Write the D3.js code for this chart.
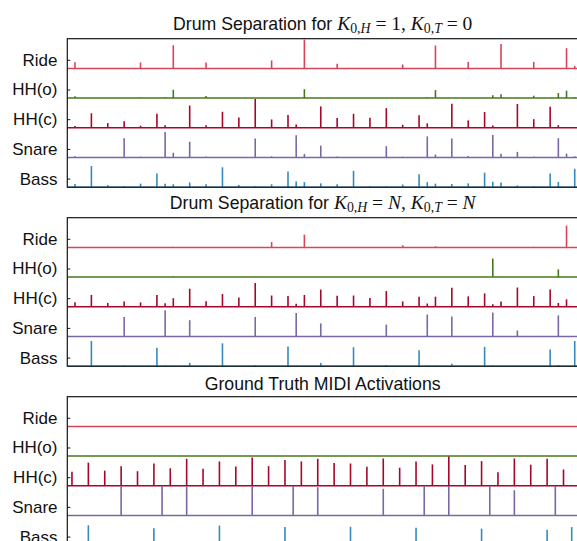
<!DOCTYPE html>
<html><head><meta charset="utf-8">
<script src="https://cdn.jsdelivr.net/npm/d3@7"></script>
<style>body{margin:0;background:#fff}svg{display:block}</style>
</head><body><svg id="c" width="577" height="541"></svg>
<script>
// ---------------- data ----------------
const rowLabels = ["Ride", "HH(o)", "HH(c)", "Snare", "Bass"];
const seriesColors = ["#d8455b", "#467821", "#a60628", "#7a68a6", "#348abd"];

// [frame index, activation]
const sep1Ride  = [[0,.21],[8,.2],[12,.78],[16,.2],[24,.27],[28,.97],[32,.16],[40,.13],[44,.77],[48,.22],[52,.82],[56,.22],[60,.68],[61,.08]];
const sep1HHo   = [[0,.06],[8,.02],[11,.04],[12,.28],[16,.07],[28,.3],[43,.03],[44,.27],[51,.1],[52,.13],[56,.08],[59,.17],[60,.25],[61,.03]];
const sep1HHc   = [[0,.06],[2,.49],[4,.16],[6,.22],[8,.07],[10,.47],[11,.09],[14,.75],[16,.09],[18,.54],[20,.35],[22,.97],[24,.28],[26,.43],[27,.11],[28,.03],[30,.72],[32,.33],[34,.47],[36,.34],[38,.66],[40,.1],[42,.42],[43,.15],[46,.81],[48,.25],[50,.53],[51,.08],[54,.8],[56,.29],[58,.71],[59,.09]];
const sep1Snare = [[0,.04],[6,.65],[8,.03],[11,.86],[12,.16],[14,.53],[16,.03],[22,.64],[24,.04],[27,.75],[28,.12],[30,.4],[32,.03],[38,.38],[40,.03],[43,.71],[44,.1],[46,.64],[48,.05],[51,.76],[52,.13],[54,.19],[56,.03],[59,.65],[60,.13],[61,.04]];
const sep1Bass  = [[0,.11],[2,.71],[4,.07],[6,.03],[8,.12],[10,.46],[11,.12],[12,.1],[14,.16],[16,.1],[18,.67],[20,.07],[22,.03],[24,.1],[26,.53],[27,.19],[28,.17],[30,.13],[32,.1],[34,.55],[36,.03],[38,.03],[40,.09],[42,.44],[43,.17],[44,.12],[46,.11],[48,.13],[50,.49],[51,.18],[52,.16],[54,.06],[56,.03],[58,.46],[59,.18],[61,.62]];

const sep2Ride  = [[12,.02],[24,.18],[28,.43],[40,.07],[44,.04],[56,.02],[60,.73]];
const sep2HHo   = [[12,.02],[51,.63],[59,.26]];
const sep2HHc   = [[0,.15],[2,.4],[4,.13],[6,.18],[8,.15],[10,.4],[11,.12],[12,.29],[14,.61],[16,.19],[18,.43],[20,.31],[22,.8],[24,.38],[26,.36],[27,.1],[28,.4],[30,.58],[32,.37],[34,.38],[36,.3],[38,.53],[40,.18],[42,.34],[43,.11],[44,.34],[46,.64],[48,.35],[50,.45],[51,.09],[52,.18],[54,.65],[56,.36],[58,.58],[59,.13],[60,.25]];
const sep2Snare = [[6,.66],[11,.88],[14,.55],[22,.66],[27,.79],[30,.44],[38,.4],[43,.74],[46,.67],[51,.81],[54,.2],[59,.71]];
const sep2Bass  = [[2,.85],[6,.02],[10,.62],[11,.02],[12,.02],[14,.11],[18,.77],[22,.03],[26,.66],[27,.02],[30,.11],[34,.64],[38,.04],[42,.54],[43,.02],[44,.02],[46,.08],[50,.65],[51,.02],[54,.02],[58,.56],[59,.04],[61,.85]];

const gtRide  = [];
const gtHHo   = [];
const gtHHc   = [[0,.47],[2,.78],[4,.51],[6,.66],[8,.49],[10,.75],[12,.59],[14,.91],[16,.57],[18,.82],[20,.65],[22,.95],[24,.66],[26,.87],[28,.82],[30,.91],[32,.77],[34,.75],[36,.64],[38,.92],[40,.61],[42,.82],[44,.72],[46,.99],[48,.7],[50,.83],[52,.46],[54,.92],[56,.71],[58,.91],[60,.55]];
const gtSnare = [[6,.99],[11,.99],[14,.99],[22,.99],[27,.99],[30,.95],[38,.9],[43,.99],[46,.99],[51,.99],[54,.85],[59,.99]];
const gtBass  = [[2,.67],[10,.57],[18,.66],[26,.61],[34,.62],[42,.59],[50,.56],[58,.52],[61,.61]];
const gtFrameShift = -0.37; // MIDI onsets sit slightly earlier than analysis frames

const xDomain = [-0.94, 61.4];
const tickLevel = 0.29;

const panels = [
  {rows: [sep1Ride, sep1HHo, sep1HHc, sep1Snare, sep1Bass], shift: 0},
  {rows: [sep2Ride, sep2HHo, sep2HHc, sep2Snare, sep2Bass], shift: 0},
  {rows: [gtRide, gtHHo, gtHHc, gtSnare, gtBass], shift: gtFrameShift}
];

// ---------------- drawing ----------------
const svg = d3.select("#c");
const left = 67.3, right = 578;
const panelTops = [38.7, 217.7, 396.7];
const rowH = 29.7;
const titleY = [29.5, 208.5, 389.5];
const x = d3.scaleLinear().domain(xDomain).range([left, right]);
const cx = (left + right) / 2;
const sansF = "'Liberation Sans', Arial, Helvetica, sans-serif";
const serifF = "'Liberation Serif', 'Times New Roman', serif";
const titleSize = 17.7;

function mathTitle(g, y, hVal, tVal, italicVals) {
  const t = g.append("text").attr("x", cx).attr("y", y).attr("text-anchor", "middle")
    .attr("font-family", sansF).attr("font-size", titleSize).attr("fill", "#111")
    .attr("xml:space", "preserve");
  t.append("tspan").text("Drum Separation for ");
  const mathSize = 19.5, subSize = 13.8, sub = 3.8;
  function K(sym) {
    t.append("tspan").attr("font-family", serifF).attr("font-style", "italic").attr("font-size", mathSize).text("K");
    t.append("tspan").attr("font-family", serifF).attr("font-size", subSize).attr("dy", sub).text("0,");
    t.append("tspan").attr("font-family", serifF).attr("font-style", "italic").attr("font-size", subSize).text(sym);
  }
  function eq(v) {
    t.append("tspan").attr("font-family", serifF).attr("font-size", mathSize).attr("dy", -sub).text("\u2005=\u2005");
    t.append("tspan").attr("font-family", serifF).attr("font-size", mathSize)
      .attr("font-style", italicVals ? "italic" : "normal").text(v);
  }
  K("H"); eq(hVal);
  t.append("tspan").attr("font-family", serifF).attr("font-size", mathSize).text(",\u2005");
  K("T"); eq(tVal);
}

const g0 = svg.append("g");
mathTitle(g0, titleY[0], "1", "0", false);
mathTitle(g0, titleY[1], "N", "N", true);
g0.append("text").attr("x", cx).attr("y", titleY[2]).attr("text-anchor", "middle")
  .attr("font-family", sansF).attr("font-size", titleSize).attr("fill", "#111")
  .text("Ground Truth MIDI Activations");

panels.forEach((p, pi) => {
  const top = panelTops[pi];
  const y = d3.scaleLinear().domain([0, 5]).range([top + 5 * rowH, top]);
  const g = svg.append("g");
  p.rows.forEach((data, r) => {
    const off = 4 - r;
    const col = seriesColors[r];
    g.append("line").attr("x1", left).attr("x2", right)
      .attr("y1", y(off)).attr("y2", y(off))
      .attr("stroke", col).attr("stroke-width", 1.5);
    g.selectAll(null).data(data).enter().append("line")
      .attr("x1", d => x(d[0] + p.shift)).attr("x2", d => x(d[0] + p.shift))
      .attr("y1", y(off)).attr("y2", d => y(off + d[1]))
      .attr("stroke", col).attr("stroke-width", 1.6);
  });
  g.append("rect").attr("x", left).attr("y", top).attr("width", right - left).attr("height", 5 * rowH)
    .attr("fill", "none").attr("stroke", "#151515").attr("stroke-width", 1.2);
  const axis = d3.axisLeft(y)
    .tickValues(rowLabels.map((_, r) => 4 - r + tickLevel))
    .tickFormat((d, i) => rowLabels[i])
    .tickSizeInner(-3).tickSizeOuter(0).tickPadding(9.8);
  const ag = g.append("g").attr("transform", `translate(${left},0)`).call(axis);
  ag.select(".domain").remove();
  ag.selectAll("line").attr("stroke", "#151515").attr("stroke-width", 1);
  ag.selectAll("text").attr("font-family", sansF).attr("font-size", 17).attr("fill", "#111");
});
</script></body></html>
